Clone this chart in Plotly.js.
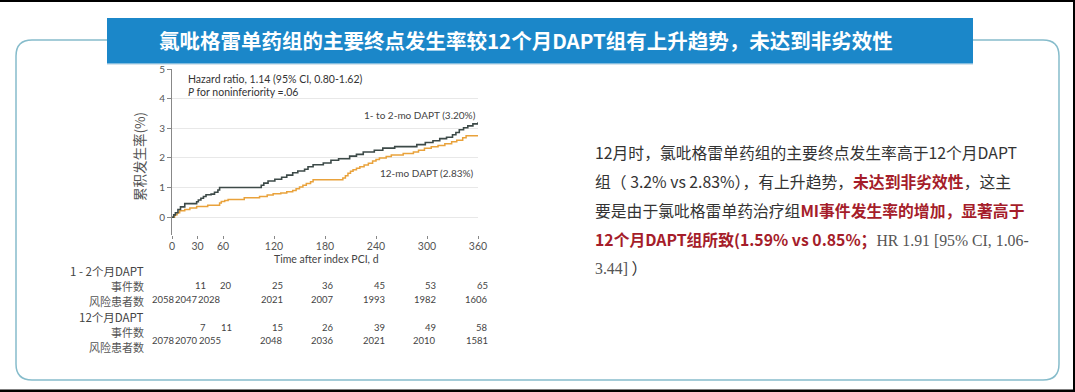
<!DOCTYPE html>
<html><head><meta charset="utf-8">
<script src="https://cdn.plot.ly/plotly-3.0.1.min.js"></script>
<style>html,body{margin:0;padding:0;background:#fff;overflow:hidden}#chart{width:1075px;height:392px}</style>
</head><body><div id="chart"></div>
<script>
// ---- data ----
const days_1to2mo = [0,2,4,7,10,15,29,31,34,37,40,46,50,54,56,105,108,113,121,129,135,142,148,156,160,166,178,187,196,209,217,225,238,248,262,288,298,307,315,323,330,334,338,343,348,354,360];
const rate_1to2mo = [0,0.08,0.15,0.26,0.35,0.46,0.52,0.58,0.64,0.70,0.76,0.78,0.84,0.92,1.0,1.08,1.15,1.22,1.28,1.35,1.42,1.5,1.56,1.62,1.7,1.77,1.83,1.92,1.97,2.06,2.12,2.2,2.26,2.33,2.38,2.45,2.52,2.58,2.65,2.7,2.78,2.86,2.95,3.02,3.08,3.15,3.2];
const days_12mo = [0,3,6,9,15,21,29,42,56,58,62,66,85,103,112,119,128,135,142,146,150,154,158,163,166,201,204,207,210,213,217,221,226,231,236,240,244,252,258,272,284,290,297,305,313,321,329,335,342,346,360];
const rate_12mo = [0,0.08,0.15,0.22,0.26,0.31,0.36,0.40,0.48,0.53,0.56,0.60,0.66,0.70,0.75,0.79,0.82,0.86,0.90,0.96,1.02,1.08,1.14,1.20,1.26,1.32,1.40,1.48,1.55,1.60,1.65,1.70,1.76,1.82,1.90,1.95,2.00,2.05,2.10,2.15,2.20,2.26,2.33,2.38,2.42,2.48,2.55,2.60,2.68,2.75,2.76];
const xTicks = [0,30,60,120,180,240,300,360];
const yTicks = [0,1,2,3,4,5];
const events_1to2mo = [null,11,20,25,36,45,53,65];
const atRisk_1to2mo = [2058,2047,2028,2021,2007,1993,1982,1606];
const events_12mo = [null,7,11,15,26,39,49,58];
const atRisk_12mo = [2078,2070,2055,2048,2036,2021,2010,1581];
const groupLabels = ["1 - 2个月DAPT","12个月DAPT"];
const rowLabels = ["事件数","风险患者数"];
const seriesNames = ["1- to 2-mo DAPT (3.20%)","12-mo DAPT (2.83%)"];

// ---- layout helpers (pixel -> paper) ----
const L=172, T=69, PW=306, PH=166;
const X = p => (p - L)/PW;
const Y = p => (T + PH - p)/PH;
function roundRect(x0,y0,x1,y1,r){
  const f=(a,b)=>X(a).toFixed(5)+','+Y(b).toFixed(5);
  return 'M'+f(x0+r,y0)+' L'+f(x1-r,y0)+' Q'+f(x1,y0)+' '+f(x1,y0+r)+
         ' L'+f(x1,y1-r)+' Q'+f(x1,y1)+' '+f(x1-r,y1)+
         ' L'+f(x0+r,y1)+' Q'+f(x0,y1)+' '+f(x0,y1-r)+
         ' L'+f(x0,y0+r)+' Q'+f(x0,y0)+' '+f(x0+r,y0)+' Z';
}
const sans = "Lato, 'Noto Sans CJK SC', sans-serif";
const cjk = "'Noto Sans CJK SC', 'Noto Sans', sans-serif";

const traces = [
  {x: days_12mo, y: rate_12mo, type:'scatter', mode:'lines', line:{shape:'hv', color:'#e9a23b', width:1.5}, hoverinfo:'skip'},
  {x: days_1to2mo, y: rate_1to2mo, type:'scatter', mode:'lines', line:{shape:'hv', color:'#3d4a48', width:1.6}, hoverinfo:'skip'}
];

const ann = [];
function A(px, py, text, opt){
  ann.push(Object.assign({xref:'paper', yref:'paper', x:X(px), y:Y(py), text:text, showarrow:false,
    xanchor:'left', yanchor:'middle', font:{family:sans, size:10, color:'#333'}}, opt||{}));
}
// title
A(526, 40, '<b>氯吡格雷单药组的主要终点发生率较12个月DAPT组有上升趋势，未达到非劣效性</b>', {xanchor:'center', font:{family:cjk, size:20.5, color:'#ffffff'}});
// plot annotations
A(186, 78.5, 'Hazard ratio, 1.14 (95% CI, 0.80-1.62)', {font:{family:sans, size:10.5, color:'#333'}});
A(186, 91.5, '<i>P</i> for noninferiority =.06', {font:{family:sans, size:10.5, color:'#333'}});
A(478, 115, seriesNames[0], {xanchor:'right', font:{family:sans, size:10, color:'#444'}});
A(476, 172.5, seriesNames[1], {xanchor:'right', font:{family:sans, size:10, color:'#444'}});
A(139, 157, '累积发生率(%)', {xanchor:'center', textangle:-90, font:{family:cjk, size:13.5, color:'#555'}});
A(326, 258.5, 'Time after index PCI, d', {xanchor:'center', font:{family:sans, size:10.5, color:'#444'}});

// number-at-risk table
const riskRight = [177,200,223,285,336,387,438,490];
const evRight = [null,208,234,285,336,387,438,490];
const labelRight = 146;
const tbl = [
  {group:groupLabels[0], gy:271, ev:events_1to2mo, evy:285, evly:286, risk:atRisk_1to2mo, ry:299, rly:300.5},
  {group:groupLabels[1], gy:317, ev:events_12mo, evy:327, evly:331.5, risk:atRisk_12mo, ry:340.5, rly:347}
];
const numFont = {family:sans, size:9.5, color:'#444'};
tbl.forEach(g=>{
  A(labelRight, g.gy, g.group, {xanchor:'right', font:{family:cjk, size:11.5, color:'#444'}});
  A(labelRight, g.evly, rowLabels[0], {xanchor:'right', font:{family:cjk, size:11, color:'#555'}});
  A(labelRight, g.rly, rowLabels[1], {xanchor:'right', font:{family:cjk, size:11, color:'#555'}});
  g.ev.forEach((v,i)=>{ if(v!==null) A(evRight[i], g.evy, String(v), {xanchor:'right', font:numFont}); });
  g.risk.forEach((v,i)=>{ A(riskRight[i], g.ry, String(v), {xanchor:'right', font:numFont}); });
});

// right text block
const red = s => '<b><span style="color:#a51d2a">'+s+'</span></b>';
const serif = s => '<span style="font-family:\'Liberation Serif\', serif;color:#555">'+s+'</span>';
const lines = [
  '12月时，氯吡格雷单药组的主要终点发生率高于12个月DAPT',
  '组（ 3.2% vs 2.83%），有上升趋势，'+red('未达到非劣效性')+'，这主',
  '要是由于氯吡格雷单药治疗组'+red('MI事件发生率的增加，显著高于'),
  red('12个月DAPT组所致(1.59% vs 0.85%；')+serif('HR 1.91 [95% CI, 1.06-'),
  serif('3.44]')+' ）'
];
const lineY = [152, 181.5, 210.5, 239, 267.5];
lines.forEach((t,i)=>A(593, lineY[i], t, {font:{family:cjk, size:15.8, color:'#333'}}));

const shapes = [
  {type:'path', xref:'paper', yref:'paper', path:roundRect(16,40,1059,380,16), line:{color:'#86bccb', width:1.5}, fillcolor:'rgba(0,0,0,0)', layer:'below'},
  {type:'rect', xref:'paper', yref:'paper', x0:X(107), x1:X(973), y0:Y(63.5), y1:Y(65), fillcolor:'#d6e4ec', line:{width:0}},
  {type:'rect', xref:'paper', yref:'paper', x0:X(107), x1:X(973), y0:Y(18), y1:Y(63.5), fillcolor:'#1b87c9', line:{width:0}},
  {type:'rect', xref:'paper', yref:'paper', x0:X(0), x1:X(1075), y0:Y(0), y1:Y(2), fillcolor:'#000', line:{width:0}},
  {type:'rect', xref:'paper', yref:'paper', x0:X(0), x1:X(1075), y0:Y(389.5), y1:Y(392), fillcolor:'#000', line:{width:0}},
  {type:'rect', xref:'paper', yref:'paper', x0:X(1073), x1:X(1075), y0:Y(0), y1:Y(392), fillcolor:'#000', line:{width:0}}
];

const layout = {
  width:1075, height:392,
  margin:{l:L, r:1075-L-PW, t:T, b:392-T-PH, pad:0},
  paper_bgcolor:'#ffffff', plot_bgcolor:'rgba(0,0,0,0)',
  showlegend:false,
  xaxis:{range:[0,360], tickvals:xTicks, ticktext:xTicks.map(String), showgrid:false, zeroline:false, showline:false,
         ticks:'outside', ticklen:3, tickcolor:'#888', ticklabelstandoff:-2, tickfont:{family:sans, size:10.5, color:'#555'}, fixedrange:true},
  yaxis:{range:[-0.6,5], tickvals:yTicks, ticktext:yTicks.map(String), showgrid:true, gridcolor:'#e8e8e8', gridwidth:1, zeroline:false,
         showline:true, linecolor:'#888', linewidth:1, ticks:'outside', ticklen:4, tickcolor:'#888',
         tickfont:{family:sans, size:10, color:'#555'}, fixedrange:true},
  annotations:ann, shapes:shapes
};
Plotly.newPlot('chart', traces, layout, {displayModeBar:false, staticPlot:true});
</script></body></html>
